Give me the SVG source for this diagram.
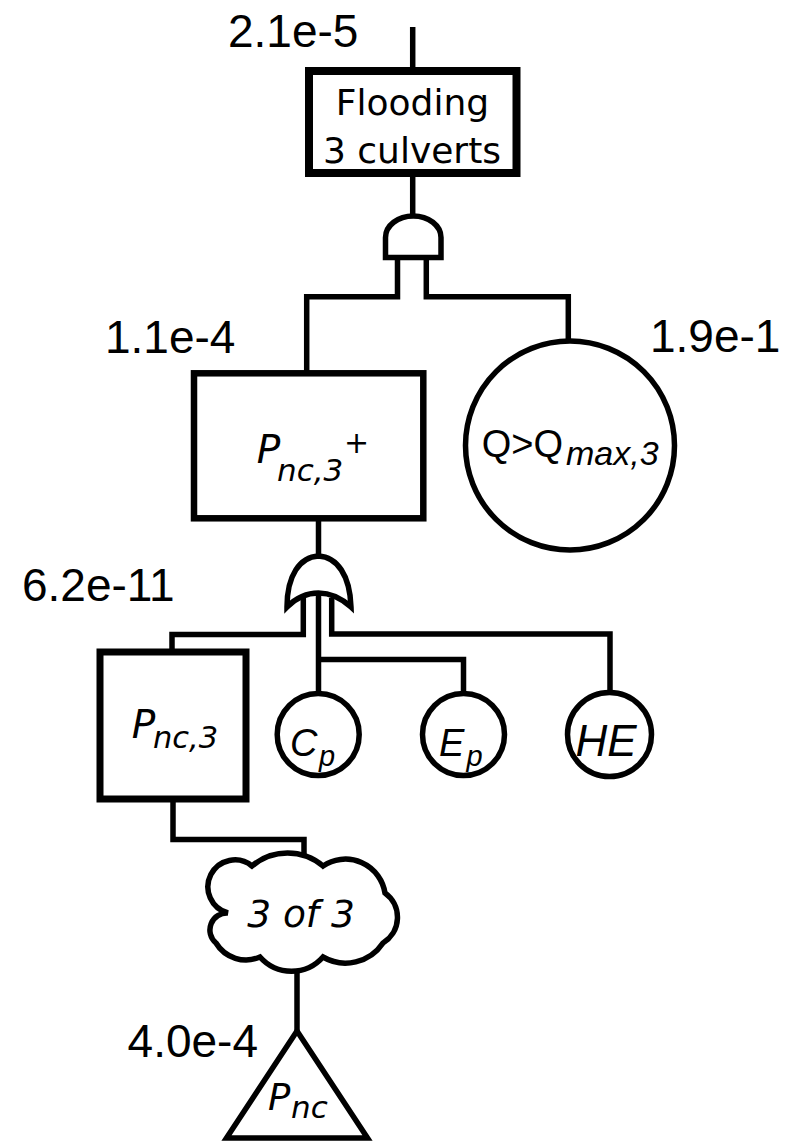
<svg xmlns="http://www.w3.org/2000/svg" width="795" height="1141" viewBox="0 0 795 1141">
<style>
.conn{fill:none;stroke:#000;stroke-width:5.5;stroke-linejoin:miter;stroke-linecap:butt}
.box{fill:#fff;stroke:#000;stroke-linejoin:miter}
.shape{fill:#fff;stroke:#000;stroke-width:5.5;stroke-linejoin:miter}
.lbl{font-family:"Liberation Sans",Arial,sans-serif;font-size:46px;fill:#000}
.tah{font-family:"DejaVu Sans",Verdana,sans-serif;fill:#000}
.ari{font-family:"Liberation Sans",Arial,sans-serif;fill:#000}
.it{font-style:italic}
</style>
<rect width="795" height="1141" fill="#fff"/>

<g id="connectors" class="conn">
  <path d="M412.7,27 V71"/>
  <path d="M412.7,173 V217"/>
  <path d="M397.5,257 V296.7 H306.7 V373"/>
  <path d="M426.3,257 V296.7 H568.3 V341"/>
  <path d="M318.5,518 V557"/>
  <path d="M303.3,598 V634.5 H172 V652"/>
  <path d="M318.5,595 V692"/>
  <path d="M318.5,659.5 H463.5 V692"/>
  <path d="M331.7,598 V634 H610 V692"/>
  <path d="M173,799 V839.5 H304 V857"/>
  <path d="M297,970 V1031"/>
</g>

<g id="label-top"><text class="lbl" x="228" y="47">2.1e-5</text></g>
<g id="label-pnc3plus"><text class="lbl" x="105" y="353">1.1e-4</text></g>
<g id="label-qmax"><text class="lbl" x="650" y="352">1.9e-1</text></g>
<g id="label-pnc3"><text class="lbl" x="22" y="601">6.2e-11</text></g>
<g id="label-pnc"><text class="lbl" x="258" y="1057" text-anchor="end">4.0e-4</text></g>

<g id="node-flooding">
  <rect class="box" x="309" y="71" width="207.5" height="102" stroke-width="8"/>
  <text class="tah" x="412.5" y="115" font-size="36" text-anchor="middle">Flooding</text>
  <text class="tah" x="412" y="163" font-size="36" text-anchor="middle">3 culverts</text>
</g>

<g id="gate-and">
  <path class="shape" d="M385.5,257.5 V237.5 A27.7,21.5 0 0 1 441,237.5 V257.5 Z"/>
</g>

<g id="node-pnc3plus">
  <rect class="box" x="194" y="373.3" width="229.3" height="145" stroke-width="6.5"/>
  <text class="tah it"><tspan x="256.7" y="463" font-size="39">P</tspan><tspan x="277" y="481" font-size="31">nc,3</tspan><tspan x="344" y="453" font-size="30">+</tspan></text>
</g>

<g id="node-qmax">
  <circle class="shape" cx="570" cy="445.5" r="104.5"/>
  <text class="ari"><tspan x="481.7" y="456.7" font-size="38">Q&gt;Q</tspan><tspan class="it" x="566" y="465" font-size="34">max,3</tspan></text>
</g>

<g id="gate-or">
  <path class="shape" d="M287,607 C287,575 300,557 318.5,556 C337,557 350,575 351,607 C340,597 330,593 318.5,593 C307,593 297,597 287,607 Z"/>
</g>

<g id="node-pnc3">
  <rect class="box" x="100" y="652" width="146" height="147" stroke-width="7"/>
  <text class="tah it"><tspan x="131.7" y="738" font-size="39">P</tspan><tspan x="153" y="748" font-size="30.5">nc,3</tspan></text>
</g>

<g id="node-cp">
  <circle class="shape" cx="318.2" cy="734.5" r="41"/>
  <text class="ari it"><tspan x="290" y="755.5" font-size="38">C</tspan><tspan x="319" y="766" font-size="29">p</tspan></text>
</g>

<g id="node-ep">
  <circle class="shape" cx="463.5" cy="734.5" r="41"/>
  <text class="ari it"><tspan x="439" y="755.5" font-size="38">E</tspan><tspan x="466.5" y="766" font-size="29">p</tspan></text>
</g>

<g id="node-he">
  <circle class="shape" cx="609.5" cy="734.5" r="42"/>
  <text class="ari it" x="606" y="755.5" font-size="44" text-anchor="middle">HE</text>
</g>

<g id="node-3of3">
  <path class="shape" d="M228,913 A27,27 0 1 1 252,866 A55,55 0 0 1 323,866 A40,40 0 0 1 385,893 A30,30 0 0 1 383,943 A45,45 0 0 1 323,957 A42,42 0 0 1 260,957 A35,35 0 0 1 216,943 A17,17 0 0 1 228,913 Z"/>
  <text class="tah it" x="301" y="927" font-size="37.5" text-anchor="middle">3 of 3</text>
</g>

<g id="node-pnc">
  <polygon class="shape" points="297,1031 226.5,1138 367.5,1138" stroke-width="7"/>
  <text class="tah it"><tspan x="268" y="1110" font-size="37">P</tspan><tspan x="291" y="1118" font-size="31">nc</tspan></text>
</g>
</svg>
